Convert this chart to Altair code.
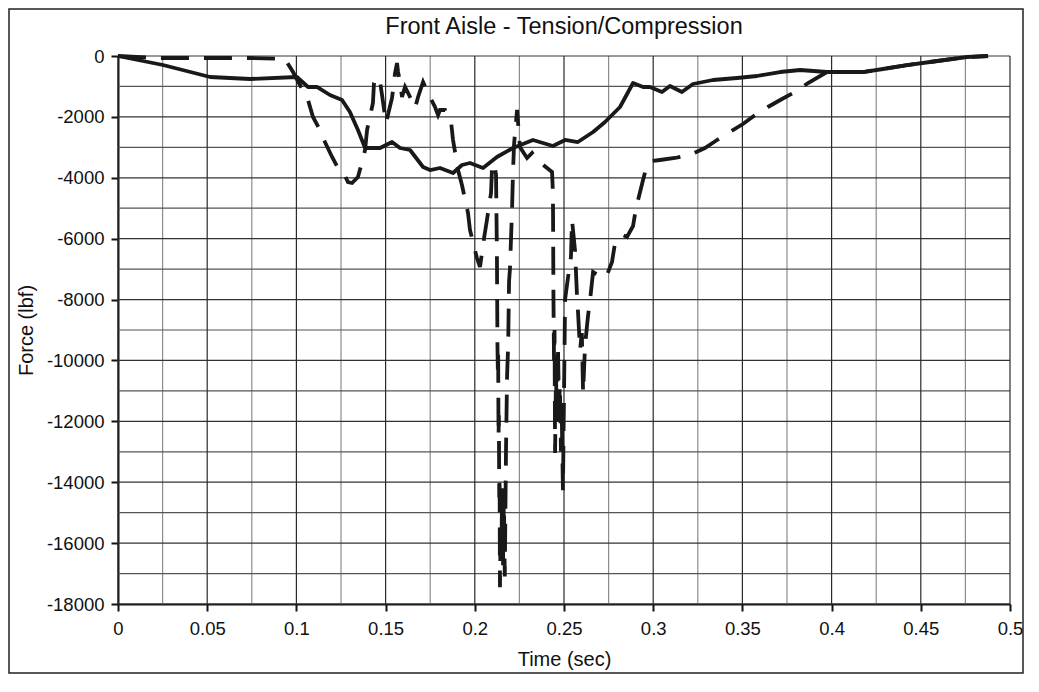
import altair as alt
import pandas as pd

# ---- data ----
solid_t = [0.0, 0.0252, 0.0516, 0.074, 0.1003, 0.1065, 0.1115, 0.1188, 0.1256, 0.13, 0.1345,
           0.1385, 0.1469, 0.1536, 0.1581, 0.1637, 0.171, 0.1749, 0.1805, 0.1878, 0.1928, 0.1973,
           0.2046, 0.2124, 0.2214, 0.2326, 0.2438, 0.2506, 0.2578, 0.2663, 0.273, 0.2814, 0.2887,
           0.2943, 0.2982, 0.3049, 0.3094, 0.3161, 0.3223, 0.3335, 0.347, 0.3582, 0.3711, 0.3823,
           0.3974, 0.4176, 0.4288, 0.4423, 0.4552, 0.4759, 0.4877]
solid_f = [0, -296, -690, -756, -690, -1018, -1018, -1281, -1445, -1840, -2431,
           -3022, -3022, -2825, -3022, -3088, -3646, -3745, -3679, -3843, -3581, -3515,
           -3679, -3318, -3022, -2759, -2957, -2759, -2825, -2497, -2168, -1675, -887,
           -1018, -1018, -1183, -986, -1183, -920, -788, -723, -657, -526, -460,
           -526, -526, -427, -296, -197, -33, 0]

dash_t = [0.0, 0.0235, 0.0516, 0.074, 0.0936, 0.0981, 0.102, 0.1065, 0.1093, 0.1132, 0.116,
          0.12, 0.1233, 0.1256, 0.1289, 0.1312, 0.1345, 0.1368, 0.1385, 0.1396, 0.1429, 0.1435,
          0.1452, 0.1469, 0.148, 0.1502, 0.1513, 0.1536, 0.1553, 0.1564, 0.157, 0.1581, 0.1592,
          0.1609, 0.1637, 0.1665, 0.1682, 0.171, 0.1743, 0.1777, 0.1794, 0.1805, 0.1833, 0.1867,
          0.1878, 0.1906, 0.1928, 0.1962, 0.1973, 0.2012, 0.2029, 0.2052, 0.2068, 0.2091, 0.2096,
          0.2108, 0.2119, 0.2124, 0.2127, 0.2129, 0.2131, 0.2133, 0.2135, 0.2137, 0.2139, 0.2141,
          0.2145, 0.2149, 0.2153, 0.2158, 0.2163, 0.2168, 0.2175, 0.2181, 0.2187, 0.2192, 0.2197,
          0.2209, 0.2214, 0.222, 0.2237, 0.2253, 0.2293, 0.2321, 0.2349, 0.2405, 0.2433, 0.2438,
          0.2441, 0.2444, 0.2447, 0.245, 0.2455, 0.2461, 0.2466, 0.2472, 0.2477, 0.2483, 0.2488,
          0.2494, 0.2506, 0.2522, 0.2539, 0.2545, 0.2562, 0.2573, 0.2579, 0.259, 0.26, 0.2607,
          0.2618, 0.2634, 0.2646, 0.2663, 0.2691, 0.2713, 0.2741, 0.2769, 0.2786, 0.2814, 0.2831,
          0.2853, 0.2887, 0.2904, 0.2943, 0.2965, 0.2993, 0.3038, 0.3122, 0.3206, 0.329, 0.3358,
          0.343, 0.3503, 0.3571, 0.3643, 0.3722, 0.3795, 0.3868, 0.3974, 0.4176, 0.4288, 0.4423,
          0.4552, 0.4759, 0.4877]
dash_f = [0, -66, -66, -66, -99, -526, -953, -1445, -2004, -2431, -2825,
          -3318, -3679, -3745, -4139, -4172, -3975, -3482, -3088, -2431, -1544, -887,
          -690, -854, -1281, -2201, -1938, -1380, -558, -230, -526, -854, -1347,
          -1018, -1347, -1708, -1347, -854, -1281, -1675, -1938, -1774, -1774, -2168,
          -2759, -3745, -4237, -5157, -5715, -6635, -6931, -5978, -5387, -4500, -3745,
          -3515, -3900, -6500, -9500, -10300, -9800, -12500, -11800, -14500, -13800, -17450,
          -15500, -16500, -14200, -16800, -14500, -17100, -12900, -10500, -9500, -7400, -7000,
          -5000, -3840, -2900, -1770, -2990, -3350, -3186, -3416, -3679, -3810, -4500,
          -8000, -10000, -9000, -13040, -10500, -12000, -9500, -11500, -10800, -13000, -12000,
          -14260, -8000, -7300, -6600, -5390, -6400, -7900, -8450, -9660, -9100, -11070,
          -9500, -8570, -8015, -7095, -7194, -7292, -7194, -6767, -6142, -5945, -5880,
          -5945, -5584, -4993, -4073, -3580, -3449, -3416, -3350, -3252, -3022, -2759,
          -2496, -2234, -1938, -1675, -1412, -1183, -887, -526, -526, -427, -296,
          -197, -33, 0]

x_ticks = [0, 0.05, 0.1, 0.15, 0.2, 0.25, 0.3, 0.35, 0.4, 0.45, 0.5]
x_minor = [0.025, 0.075, 0.125, 0.175, 0.225, 0.275, 0.325, 0.375, 0.425, 0.475]
y_ticks = [0, -2000, -4000, -6000, -8000, -10000, -12000, -14000, -16000, -18000]
y_minor = [-1000, -3000, -5000, -7000, -9000, -11000, -13000, -15000, -17000]

TITLE = "Front Aisle - Tension/Compression"
FONT = "Liberation Sans"
INK = "#1a1818"

xs = alt.Scale(domain=[0, 0.5], nice=False, zero=False)
ys = alt.Scale(domain=[-18000, 0], nice=False, zero=False)

x_axis = alt.Axis(values=x_ticks, labelExpr="'' + datum.value", title="Time (sec)",
                  grid=False, tickSize=7, labelPadding=8, labelFlush=False, labelOverlap=False,
                  titleX=446, titleY=61, titleBaseline="alphabetic", titleAlign="center")
y_axis = alt.Axis(values=y_ticks, labelExpr="'' + datum.value", title="Force (lbf)",
                  grid=False, tickSize=7, labelPadding=7, labelFlush=False, labelOverlap=False,
                  titleX=-86, titleY=274, titleBaseline="alphabetic", titleAlign="center",
                  titleAngle=270)

solid_df = pd.DataFrame({"t": solid_t, "f": solid_f})
dash_df = pd.DataFrame({"t": dash_t, "f": dash_f})

def vrules(vals, color):
    return alt.Chart(pd.DataFrame({"t": vals})).mark_rule(color=color, strokeWidth=1.2).encode(
        x=alt.X("t:Q", scale=xs, axis=x_axis))

def hrules(vals, color):
    return alt.Chart(pd.DataFrame({"f": vals})).mark_rule(color=color, strokeWidth=1.2).encode(
        y=alt.Y("f:Q", scale=ys, axis=y_axis))

axes_base = alt.Chart(solid_df).mark_point(opacity=0).encode(
    x=alt.X("t:Q", scale=xs, axis=x_axis),
    y=alt.Y("f:Q", scale=ys, axis=y_axis),
)

grid = [vrules(x_minor, "#8c8c8c"), hrules(y_minor, "#555555"),
        hrules(y_ticks, "#333333"), vrules(x_ticks, "#2a2a2a")]

solid_line = alt.Chart(solid_df).mark_line(color=INK, strokeWidth=3.8, strokeJoin="round").encode(
    x=alt.X("t:Q", scale=xs, axis=x_axis), y=alt.Y("f:Q", scale=ys, axis=y_axis))

dash_line = alt.Chart(dash_df).mark_line(color=INK, strokeWidth=3.8, strokeDash=[28, 15],
                                         strokeCap="butt", strokeJoin="miter").encode(
    x=alt.X("t:Q", scale=xs, axis=x_axis), y=alt.Y("f:Q", scale=ys, axis=y_axis))

deco = pd.DataFrame({"label": [TITLE]})

title_text = alt.Chart(deco).mark_text(
    font=FONT, fontSize=23.5, color="#111111", align="center", baseline="alphabetic").encode(
    x=alt.value(446), y=alt.value(-22), text="label:N")

border = alt.Chart(deco).mark_rect(
    fillOpacity=0, stroke="#222222", strokeWidth=1.5).encode(
    x=alt.value(-109), x2=alt.value(905), y=alt.value(-47), y2=alt.value(617))

chart = alt.layer(axes_base, *grid, dash_line, solid_line, title_text, border).properties(
    width=892, height=548,
    padding={"left": 110, "top": 48, "right": 15, "bottom": 70},
    autosize=alt.AutoSizeParams(type="none"),
).configure_view(strokeWidth=0).configure_axis(
    labelFont=FONT, labelFontSize=18.5, labelColor="#111111",
    titleFont=FONT, titleFontSize=20, titleFontWeight="normal", titleColor="#111111",
    domainColor="#111111", domainWidth=2, tickColor="#111111", tickWidth=2,
)

chart.save("out.html", embed_options={"renderer": "svg", "actions": False})
